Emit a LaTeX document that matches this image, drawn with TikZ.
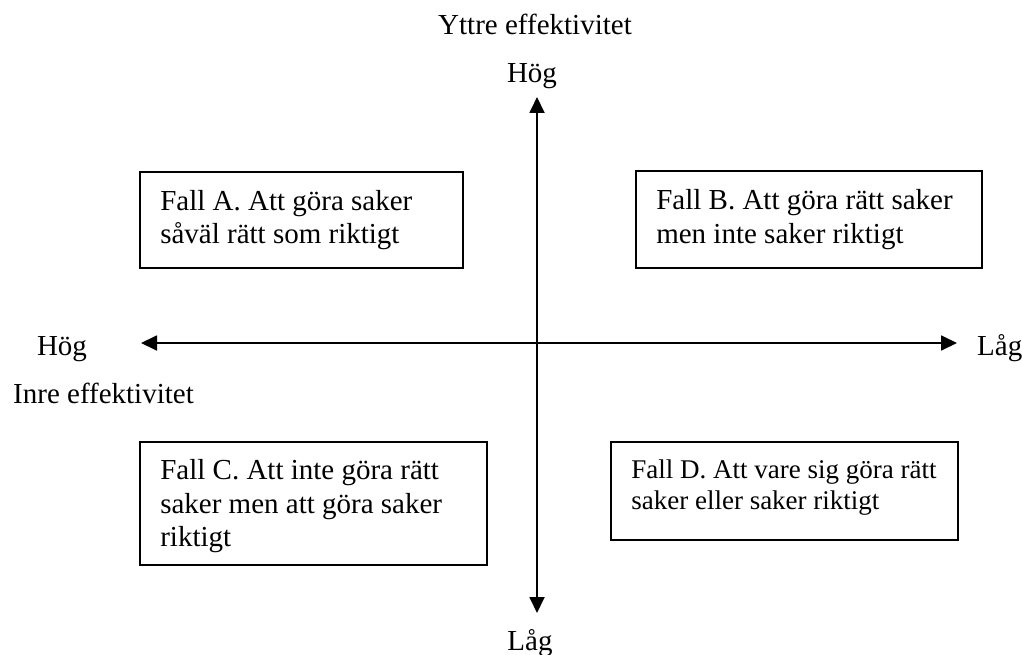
\documentclass[tikz,border=0pt]{standalone}
\usepackage{fontspec}
\setmainfont{Liberation Serif}
\usetikzlibrary{arrows.meta}

\begin{document}
\begin{tikzpicture}[x=1pt,y=-1pt,
  axis/.style={line width=1.8pt, {Triangle[length=16pt,width=15pt]}-{Triangle[length=16pt,width=15pt]}},
  casebox/.style={draw, line width=1.8pt, inner sep=0pt},
  casetext/.style={anchor=west, align=left, inner sep=0pt, xshift=21pt,
                   font=\fontsize{29}{33.5}\selectfont},
  smalltext/.style={casetext, font=\fontsize{27}{31}\selectfont},
  lbl/.style={inner sep=0pt, anchor=base, font=\fontsize{29}{33}\selectfont}
]
\useasboundingbox (0,0) rectangle (1022,655);

% axis end points
\coordinate (vtop) at (537,97);
\coordinate (vbot) at (537,613);
\coordinate (hleft) at (141,343);
\coordinate (hright) at (957,343);

% axes
\draw[axis] (vbot) -- (vtop);
\draw[axis] (hleft) -- (hright);

% axis labels
\node[lbl] (yttre) at (535,35) {Yttre effektivitet};
\node[lbl] (hogtop) at (532,83) {Hög};
\node[lbl] (lagbot) at (530,650) {Låg};
\node[lbl] (hogleft) at (62,355) {Hög};
\node[lbl, anchor=base west] (lagright) at (977,355) {Låg};
\node[lbl, anchor=base west] (inre) at (13,403) {Inre effektivitet};

% the four cases: frames
\node[casebox, minimum width=323pt, minimum height=96pt] (fallA) at (301.5,220) {};
\node[casebox, minimum width=346pt, minimum height=97pt] (fallB) at (809,219.5) {};
\node[casebox, minimum width=347pt, minimum height=123pt] (fallC) at (313.5,503.5) {};
\node[casebox, minimum width=347pt, minimum height=98pt] (fallD) at (784.5,491) {};

% the four cases: texts
\node[casetext] (textA) at (fallA.west)
  {Fall A. Att göra saker\\såväl rätt som riktigt};
\node[casetext] (textB) at (fallB.west)
  {Fall B. Att göra rätt saker\\men inte saker riktigt};
\node[casetext, yshift=-3pt] (textC) at (fallC.west)
  {Fall C. Att inte göra rätt\\saker men att göra saker\\riktigt};
\node[smalltext, yshift=3pt] (textD) at (fallD.west)
  {Fall D. Att vare sig göra rätt\\saker eller saker riktigt};
\end{tikzpicture}
\end{document}
